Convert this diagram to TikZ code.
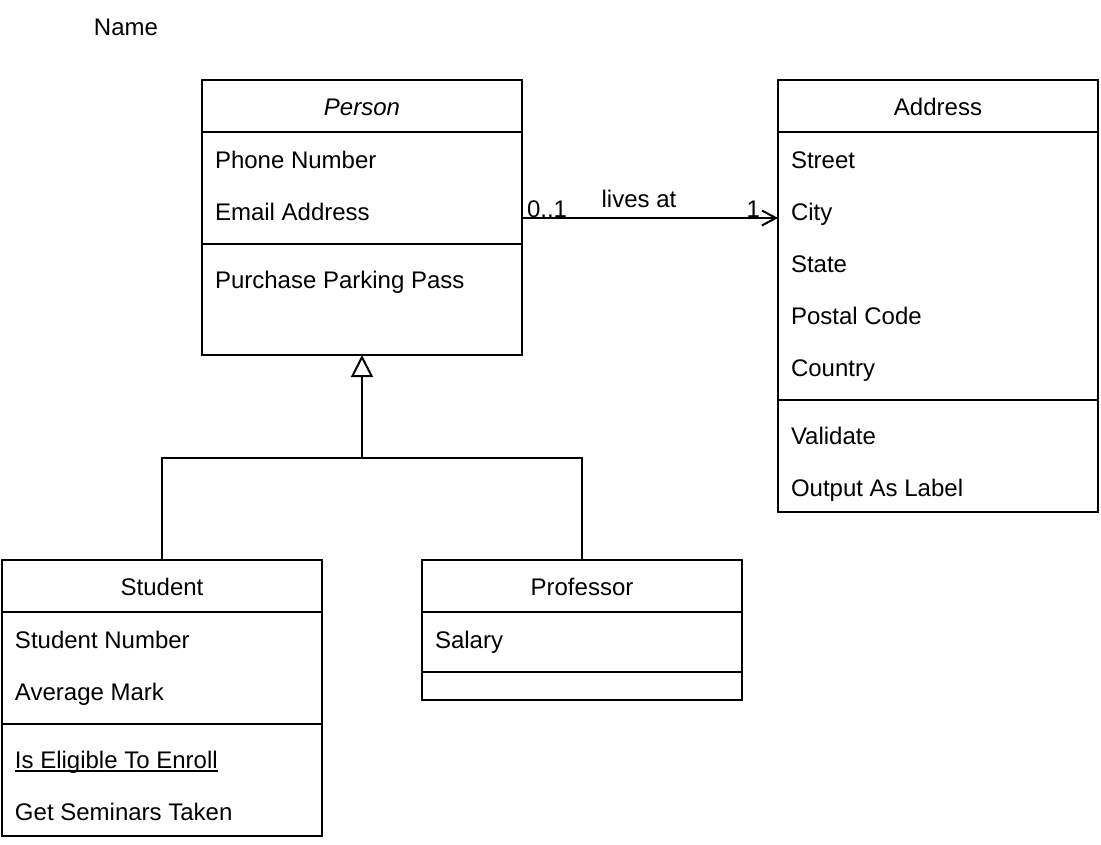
\documentclass[tikz,border=0pt]{standalone}
\usepackage{fontspec}
\setmainfont{Liberation Sans}
\usetikzlibrary{arrows.meta}
\begin{document}
\begin{tikzpicture}[x=1pt,y=-1pt,
  every node/.style={font=\fontsize{24}{28}\selectfont, inner sep=0pt, outer sep=0pt},
  classbox/.style={draw, line width=2pt, rectangle, anchor=north west, minimum width=320pt},
  sep/.style={line width=2pt},
  txt/.style={anchor=base west},
  hdr/.style={anchor=base},
  conn/.style={line width=2pt},
  gen/.style={line width=2pt, -{Triangle[open, length=22pt, width=22pt, line width=2pt]}},
  assoc/.style={line width=2pt, -{Straight Barb[length=14pt, width=15pt, line width=2pt]}}
]
\useasboundingbox (0,0) rectangle (1101,844);

\node[hdr] (name) at (126,35.6) {Name};

% Person
\node[classbox, minimum height=275pt] (person) at (202,80) {};
\draw[sep] (202,132) -- (522,132);
\draw[sep] (202,244) -- (522,244);
\node[hdr] (personT) at (362,115.6) {\itshape Person};
\node[txt] (p1) at (215,168.6) {Phone Number};
\node[txt] (p2) at (215,220.6) {Email Address};
\node[txt] (p3) at (215,288.6) {Purchase Parking Pass};

% Address
\node[classbox, minimum height=432pt] (address) at (778,80) {};
\draw[sep] (778,132) -- (1098,132);
\draw[sep] (778,400) -- (1098,400);
\node[hdr] (addressT) at (938,115.6) {Address};
\node[txt] (a1) at (791,168.6) {Street};
\node[txt] (a2) at (791,220.6) {City};
\node[txt] (a3) at (791,272.6) {State};
\node[txt] (a4) at (791,324.6) {Postal Code};
\node[txt] (a5) at (791,376.6) {Country};
\node[txt] (a6) at (791,444.6) {Validate};
\node[txt] (a7) at (791,496.6) {Output As Label};

% Student
\node[classbox, minimum height=276pt] (student) at (2,560) {};
\draw[sep] (2,612) -- (322,612);
\draw[sep] (2,724) -- (322,724);
\node[hdr] (studentT) at (162,595.6) {Student};
\node[txt] (s1) at (15,648.6) {Student Number};
\node[txt] (s2) at (15,700.6) {Average Mark};
\node[txt] (s3) at (15,768.6) {Is Eligible To Enroll};
\draw[line width=2pt] ([yshift=-2.6pt]s3.base west) -- ([yshift=-2.6pt]s3.base east);
\node[txt] (s4) at (15,820.6) {Get Seminars Taken};

% Professor
\node[classbox, minimum height=140pt] (professor) at (422,560) {};
\draw[sep] (422,612) -- (742,612);
\draw[sep] (422,672) -- (742,672);
\node[hdr] (professorT) at (582,595.6) {Professor};
\node[txt] (r1) at (435,648.6) {Salary};

% Association
\coordinate (pE) at (522,218);
\coordinate (aW) at (778,218);
\draw[assoc] (pE) -- (aW);
\node[anchor=base west] (m1) at (527,217) {0..1};
\node[anchor=base] (lbl) at (639,207) {lives at};
\node[anchor=base east] (m2) at (760,217) {1};

% Generalization
\coordinate (junc) at (362,458);
\draw[conn] (student.north) |- (junc) -| (professor.north);
\draw[gen] (junc) -- (person.south);
\end{tikzpicture}
\end{document}
